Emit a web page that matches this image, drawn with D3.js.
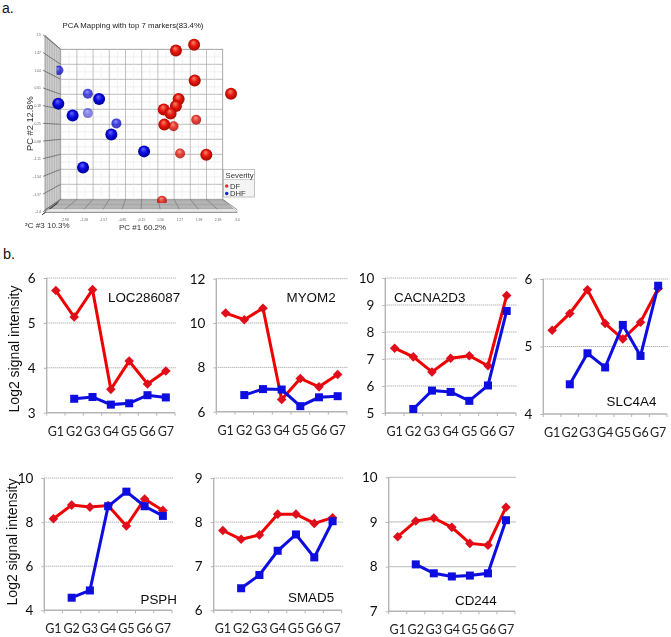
<!DOCTYPE html>
<html><head><meta charset="utf-8">
<script src="https://cdn.jsdelivr.net/npm/d3@7"></script>
<style>html,body{margin:0;padding:0;background:#fff}svg{display:block}</style>
</head><body><svg id="c" width="671" height="637"></svg>
<script>
const groups=["G1","G2","G3","G4","G5","G6","G7"];
const geneNames=["LOC286087","MYOM2","CACNA2D3","SLC4A4","PSPH","SMAD5","CD244"];
const dfLOC=[5.72,5.13,5.74,3.52,4.15,3.64,3.93];
const dhfLOC=[null,3.31,3.35,3.18,3.21,3.39,3.34];
const dfMYOM=[10.45,10.15,10.67,6.55,7.5,7.12,7.68];
const dhfMYOM=[null,6.75,7.02,7.0,6.25,6.65,6.7];
const dfCAC=[7.4,7.08,6.52,7.03,7.12,6.75,9.35];
const dhfCAC=[null,5.15,5.83,5.78,5.45,6.02,8.78];
const dfSLC=[5.24,5.49,5.84,5.34,5.11,5.36,5.86];
const dhfSLC=[null,4.44,4.9,4.69,5.32,4.86,5.9];
const dfPSPH=[8.15,8.77,8.68,8.75,7.82,9.05,8.53];
const dhfPSPH=[null,4.57,4.9,8.72,9.38,8.72,8.28];
const dfSMAD=[7.81,7.61,7.71,8.18,8.18,7.97,8.1];
const dhfSMAD=[null,6.5,6.8,7.35,7.72,7.2,8.02];
const dfCD=[8.67,9.02,9.09,8.88,8.52,8.48,9.33];
const dhfCD=[null,8.05,7.85,7.78,7.8,7.85,9.04];
const pcaDF1=[1.34,1.95,1.97,3.19,1.43,1.34,0.93,1.16,0.95,1.26,2.02,1.48,2.36,0.87];
const pcaDF2=[1.53,1.67,0.80,0.48,0.35,0.18,0.10,0.00,-0.27,-0.31,-0.15,-0.97,-1.00,-2.12];
const pcaDFfade=[1,1,1,1,1,1,1,1,1,.82,.82,.8,1,.8];
const pcaDHF1=[-2.60,-1.62,-1.24,-2.61,-2.13,-1.62,-0.66,-0.83,0.27,-1.78];
const pcaDHF2=[1.05,0.48,0.35,0.24,-0.05,0.01,-0.24,-0.51,-0.92,-1.31];
const pcaDHFfade=[.72,.72,1,1,1,.5,.75,1,1,1];
const pc2Ticks=["1.9","1.47","1.04","0.61","0.18","-0.25","-0.68","-1.11","-1.54","-1.97","-2.4"];
const pc1Ticks=["-2.98","-2.28","-1.57","-0.85","-0.15","0.56","1.27","1.98","2.69","3.4"];

const svg=d3.select("#c");
const ARIAL="'Liberation Sans',Arial,sans-serif", CAL="Lato,'Open Sans',sans-serif";
const RED="#f00000", DIAMOND="#e0101a", BLUE="#0a0ae0";
const txt=(g,x,y,s,size,fam,anchor,col)=>g.append("text").attr("x",x).attr("y",y).text(s)
  .attr("font-size",size).attr("font-family",fam).attr("text-anchor",anchor||"start").attr("fill",col||"#111");

txt(svg,2,13,"a.",14,ARIAL);
txt(svg,3,259,"b.",14.5,ARIAL);

/* ---------- panel a ---------- */
const defs=svg.append("defs");
const soft=(id,s)=>defs.append("filter").attr("id",id).attr("x","-5%").attr("y","-5%").attr("width","110%").attr("height","110%")
  .append("feGaussianBlur").attr("stdDeviation",s);
soft("soft",0.45); soft("soft2",0.25);
const grad=(id,hi,mid,lo)=>{const g=defs.append("radialGradient").attr("id",id).attr("cx",.5).attr("cy",.5).attr("r",.55).attr("fx",.42).attr("fy",.28);
  g.append("stop").attr("offset",0).attr("stop-color",hi);g.append("stop").attr("offset",.5).attr("stop-color",mid);g.append("stop").attr("offset",1).attr("stop-color",lo);};
grad("ballR","#f58a70","#e8140a","#9c0800");
grad("ballB","#6a6af8","#0808e0","#00008c");
defs.append("clipPath").attr("id","clipFloor").append("rect").attr("x",0).attr("y",0).attr("width",300).attr("height",203);
defs.append("clipPath").attr("id","clipWall").append("rect").attr("x",56.5).attr("y",0).attr("width",300).attr("height",300);
defs.append("clipPath").attr("id","clipLab").append("rect").attr("x",25).attr("y",215).attr("width",100).attr("height",25);

const A=svg.append("g").attr("filter","url(#soft)");
txt(A,133,28,"PCA Mapping with top 7 markers(83.4%)",7.8,ARIAL,"middle","#222");
const px=d3.scaleLinear().domain([-3,3.4]).range([46.7,237.3]);
const py=d3.scaleLinear().domain([1.9,-2.4]).range([35.3,212.3]);
const wall={l:60.7,r:222.7,t:49.3,b:199.3};
const fl={x0:45,x1:237.3,y:212.3};
A.append("path").attr("d",`M${fl.x0},35.3L${wall.l},${wall.t}V${wall.b}L${fl.x0},${fl.y}Z`).attr("fill","#cfcfcf").attr("stroke","#666").attr("stroke-width",.6);
A.append("path").attr("d",`M${fl.x0},${fl.y}L${wall.l},${wall.b}H${wall.r}L${fl.x1},${fl.y}Z`).attr("fill","#cccccc").attr("stroke","#777").attr("stroke-width",.6);
A.append("rect").attr("x",wall.l).attr("y",wall.t).attr("width",wall.r-wall.l).attr("height",wall.b-wall.t).attr("fill","#fff").attr("stroke","#999").attr("stroke-width",.6);
const gridG=A.append("g").attr("fill","none");
const nV=10,nH=10;
[.15,.3,.45,.6,.75,.9].forEach(f=>{const x=fl.x0+f*(wall.l-fl.x0),y0=35.3+f*(wall.t-35.3),y1=fl.y+f*(wall.b-fl.y);
  gridG.append("line").attr("x1",x).attr("x2",x).attr("y1",y0).attr("y2",y1).attr("stroke","#a2a2a2").attr("stroke-width",.6);});
d3.range(0,nH*2+1).forEach(i=>{const f=i/(nH*2),major=i%2==0,y=wall.t+f*(wall.b-wall.t),ly=35.3+f*(fl.y-35.3);
  gridG.append("line").attr("x1",wall.l).attr("x2",wall.r).attr("y1",y).attr("y2",y).attr("stroke",major?"#a0a0a0":"#e2e2e2").attr("stroke-width",major?.7:.5);
  if(major){gridG.append("line").attr("x1",fl.x0-2).attr("x2",wall.l).attr("y1",ly-.5).attr("y2",y).attr("stroke","#555").attr("stroke-width",.7);
    txt(A,fl.x0-4,ly+1,pc2Ticks[i/2],3.4,ARIAL,"end","#666");}
});
d3.range(0,nV*2+1).forEach(i=>{const f=i/(nV*2),major=i%2==0,x=wall.l+f*(wall.r-wall.l),fx=fl.x0+f*(fl.x1-fl.x0);
  gridG.append("line").attr("x1",x).attr("x2",x).attr("y1",wall.t).attr("y2",wall.b).attr("stroke",major?"#a8a8a8":"#e6e6e6").attr("stroke-width",major?.7:.5);
  if(major) gridG.append("line").attr("x1",x).attr("x2",fx).attr("y1",wall.b).attr("y2",fl.y-2.5).attr("stroke","#666").attr("stroke-width",.7);
});
[.1,.2,.3,.4,.5,.6,.7].forEach(f=>{const y=wall.b+f*(fl.y-wall.b),lx=wall.l+f*(fl.x0-wall.l),rx=wall.r+f*(fl.x1-wall.r);
  gridG.append("line").attr("x1",lx).attr("x2",rx).attr("y1",y).attr("y2",y).attr("stroke","#8e8e8e").attr("stroke-width",.6);});
A.append("path").attr("d",`M${fl.x0+3.5},${fl.y-3}H${fl.x1-3.5}L${fl.x1},${fl.y}H${fl.x0}Z`).attr("fill","#e9e9e9");
A.append("line").attr("x1",fl.x0).attr("x2",fl.x1).attr("y1",fl.y).attr("y2",fl.y).attr("stroke","#777").attr("stroke-width",.7);
d3.range(0,9).forEach(i=>gridG.append("line").attr("x1",45+i*1.7).attr("y1",212.5-i*1.3).attr("x2",42+i*1.7).attr("y2",215-i*1.3).attr("stroke","#333").attr("stroke-width",.9));
pc1Ticks.forEach((t,i)=>{txt(A,65+i*(237.3-65)/9,221,t,3.4,ARIAL,"middle","#666");});
const balls=(xs,ys,fades,fill)=>A.append("g").selectAll("circle").data(xs).join("circle")
  .attr("cx",d=>px(d)).attr("cy",(d,i)=>py(ys[i])).attr("r",(d,i)=>fades[i]<1?5:6).attr("fill",`url(#${fill})`).attr("opacity",(d,i)=>fades[i]);
balls(pcaDHF1,pcaDHF2,pcaDHFfade,"ballB").filter((d,i)=>i==0).attr("r",4.8).attr("clip-path","url(#clipWall)");
balls(pcaDF1,pcaDF2,pcaDFfade,"ballR").filter((d,i)=>i==13).attr("clip-path","url(#clipFloor)");
txt(A,22.5,228,"PC #3 10.3%",8,ARIAL,"start","#333").attr("clip-path","url(#clipLab)");
txt(A,119,230,"PC #1 60.2%",8,ARIAL,"start","#333");
A.append("text").attr("transform","translate(32.5,151) rotate(-90)").attr("font-size",9.3).attr("font-family",ARIAL).attr("fill","#333").text("PC #2 12.8%");
A.append("rect").attr("x",223.5).attr("y",169.5).attr("width",31).attr("height",27.5).attr("fill","#f4f4f4").attr("stroke","#aaa").attr("stroke-width",.7);
A.append("rect").attr("x",223.5).attr("y",169.5).attr("width",31).attr("height",10).attr("fill","#fff").attr("stroke","#aaa").attr("stroke-width",.5);
txt(A,225.5,177.5,"Severity",7.8,ARIAL,"start","#333");
A.append("circle").attr("cx",226.7).attr("cy",186).attr("r",1.7).attr("fill","#d8301c");
A.append("circle").attr("cx",226.7).attr("cy",193.5).attr("r",1.7).attr("fill","#1020d8");
txt(A,230,188.5,"DF",7.6,ARIAL,"start","#333");
txt(A,230,196,"DHF",7.6,ARIAL,"start","#333");

/* ---------- panel b ---------- */
const panel=(name,df,dhf,dom,step,box,lab,yTitle,solid)=>{
  const g=svg.append("g").attr("filter","url(#soft2)");
  const x=d3.scaleBand().domain(groups).range([box.l,box.r]).padding(0);
  const y=d3.scaleLinear().domain(dom).range([box.b,box.t]);
  const ticks=d3.range(dom[0],dom[1]+.001,step);
  g.selectAll("line.gr").data(ticks.slice(1)).join("line").attr("x1",box.l).attr("x2",box.r+1)
    .attr("y1",d=>y(d)).attr("y2",d=>y(d))
    .attr("stroke",solid?"#c8c8c8":"#8a8a8a").attr("stroke-width",solid?1.2:.9).attr("stroke-dasharray",solid?null:"1 1");
  const ax=g.append("g").attr("transform",`translate(${box.l},0)`)
    .call(d3.axisLeft(y).tickValues(ticks).tickSize(3).tickPadding(8).tickFormat(d3.format("d")));
  ax.select(".domain").attr("stroke","#b4b4b4").attr("stroke-width",1.4).attr("d",`M0,${box.t}V${box.b}`);
  ax.selectAll("line").attr("stroke","#b4b4b4");
  ax.selectAll("text").attr("font-size",13.5).attr("font-family",CAL).attr("fill","#111");
  const bx=g.append("g").attr("transform",`translate(0,${box.b})`)
    .call(d3.axisBottom(x).tickSize(0).tickPadding(14));
  bx.select(".domain").attr("stroke","#b4b4b4").attr("stroke-width",1.4).attr("d",`M${box.l},0H${box.r}`);
  bx.selectAll("text").attr("font-size",12.5).attr("font-family",CAL).attr("fill","#222");
  g.selectAll("line.tk").data(d3.range(0,8)).join("line")
    .attr("x1",i=>box.l+i*x.bandwidth()).attr("x2",i=>box.l+i*x.bandwidth())
    .attr("y1",box.b).attr("y2",box.b+3).attr("stroke","#b4b4b4");
  const cx=i=>x(groups[i])+x.bandwidth()/2;
  const line=d3.line().defined(d=>d!=null).x((d,i)=>cx(i)).y(d=>y(d));
  g.append("path").attr("d",line(df)).attr("fill","none").attr("stroke",RED).attr("stroke-width",3);
  const ri=4.8;
  g.selectAll("path.d").data(df).join("path").attr("d",(d,i)=>`M${cx(i)},${y(d)-ri}l${ri},${ri}l${-ri},${ri}l${-ri},${-ri}Z`).attr("fill",DIAMOND);
  g.append("path").attr("d",line(dhf)).attr("fill","none").attr("stroke",BLUE).attr("stroke-width",3);
  g.selectAll("rect.s").data(dhf.map((d,i)=>[d,i]).filter(a=>a[0]!=null)).join("rect")
    .attr("x",a=>cx(a[1])-4).attr("y",a=>y(a[0])-4).attr("width",8).attr("height",8).attr("fill",BLUE);
  txt(g,lab[0],lab[1],name,13.4,ARIAL,"start","#111");
  if(yTitle) g.append("text").attr("transform",`translate(${yTitle[0]},${yTitle[1]}) rotate(-90)`).attr("text-anchor","middle")
    .attr("font-size",14).attr("font-family",ARIAL).attr("fill","#111").text("Log2 signal intensity");
};
panel(geneNames[0],dfLOC,dhfLOC,[3,6],1,{l:46.7,r:175,t:278,b:412.7},[108,302],[19,349]);
panel(geneNames[1],dfMYOM,dhfMYOM,[6,12],2,{l:216.3,r:347,t:278.7,b:411.7},[286.5,302]);
panel(geneNames[2],dfCAC,dhfCAC,[5,10],1,{l:385.3,r:516,t:278,b:413},[394,302]);
panel(geneNames[3],dfSLC,dhfSLC,[4,6],1,{l:543.3,r:667,t:279,b:414},[606.5,406]);
panel(geneNames[4],dfPSPH,dhfPSPH,[4,10],2,{l:44.3,r:172,t:478,b:610.3},[140.5,604],[17,542]);
panel(geneNames[5],dfSMAD,dhfSMAD,[6,9],1,{l:213.7,r:341.7,t:478,b:610.3},[288,602]);
panel(geneNames[6],dfCD,dhfCD,[7,10],1,{l:388.7,r:515,t:477.3,b:611.3},[455,605],null,true);
</script></body></html>
